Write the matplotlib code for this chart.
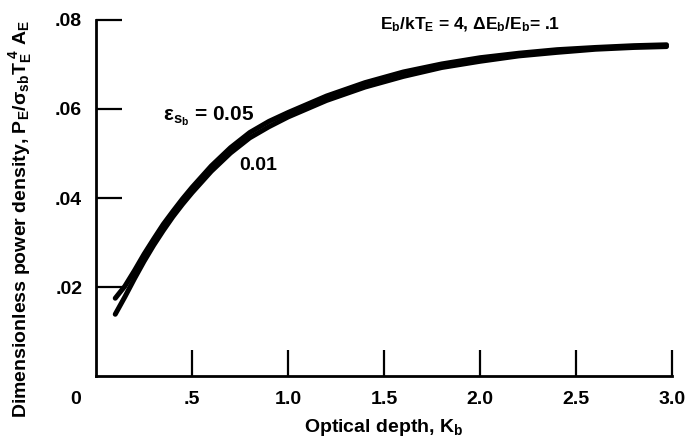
import matplotlib.pyplot as plt

plt.rcParams['font.family'] = ['Liberation Sans', 'DejaVu Sans']
plt.rcParams['font.weight'] = 'bold'
plt.rcParams['axes.labelweight'] = 'bold'
plt.rcParams['mathtext.fontset'] = 'custom'
plt.rcParams['mathtext.rm'] = 'Liberation Sans:bold'
plt.rcParams['mathtext.bf'] = 'Liberation Sans:bold'
plt.rcParams['mathtext.it'] = 'Liberation Sans:bold'
plt.rcParams['mathtext.default'] = 'bf'

# optical depth K_b
depth = [0.1, 0.15, 0.2, 0.25, 0.3, 0.35, 0.4, 0.45, 0.5, 0.6, 0.7, 0.8, 0.9, 1.0,
         1.2, 1.4, 1.6, 1.8, 2.0, 2.2, 2.4, 2.6, 2.8, 2.97]
# emissivity 0.05 (upper edge of the band)
power_05 = [0.0175, 0.0202, 0.0237, 0.0274, 0.0308, 0.0341, 0.0370, 0.0398, 0.0424, 0.0472,
            0.0513, 0.0547, 0.0572, 0.0592, 0.0629, 0.0659, 0.0683, 0.0701, 0.0715, 0.0725,
            0.0733, 0.0738, 0.0742, 0.0744]
# emissivity 0.01
power_01 = [0.0139, 0.0178, 0.0219, 0.0258, 0.0294, 0.0327, 0.0358, 0.0386, 0.0412, 0.0460,
            0.0501, 0.0535, 0.0560, 0.0582, 0.0619, 0.0649, 0.0673, 0.0693, 0.0707, 0.0719,
            0.0727, 0.0734, 0.0738, 0.0740]

xticks = [0.5, 1.0, 1.5, 2.0, 2.5, 3.0]
xlabels = ['.5', '1.0', '1.5', '2.0', '2.5', '3.0']
yticks = [0.02, 0.04, 0.06, 0.08]
ylabels = ['.02', '.04', '.06', '.08']

fig = plt.figure(figsize=(6.86, 4.41), dpi=100)
ax = fig.add_axes([0.140, 0.147, 0.840, 0.808])

ax.plot(depth, power_05, color='black', lw=3.6, solid_capstyle='round', solid_joinstyle='round')
ax.plot(depth, power_01, color='black', lw=3.6, solid_capstyle='round', solid_joinstyle='round')

ax.set_xlim(0, 3.0)
ax.set_ylim(0, 0.08)
ax.spines['top'].set_visible(False)
ax.spines['right'].set_visible(False)
ax.spines['left'].set_linewidth(2)
ax.spines['bottom'].set_linewidth(2)

ax.set_xticks(xticks)
ax.set_xticklabels(xlabels)
ax.set_yticks(yticks)
ax.set_yticklabels(ylabels)
ax.tick_params(direction='in', length=19, width=1.6, labelsize=14)
ax.tick_params(axis='x', pad=11)
ax.tick_params(axis='y', pad=10)

ax.text(-0.105, -0.0052, '0', ha='center', va='center', fontsize=14, clip_on=False)

ax.set_xlabel('Optical depth, $K_b$', fontsize=14)
ax.xaxis.set_label_coords(0.5, -0.115)
ax.set_ylabel(r'Dimensionless power density, $P_E/\sigma_{sb}T_E^{\ 4}\ A_E$', fontsize=14)
ax.yaxis.set_label_coords(-0.108, 0.44)

ax.text(0.35, 0.0575, r'$\epsilon_{s_b}$ = 0.05', fontsize=15)
ax.text(0.745, 0.0463, '0.01', fontsize=14)
ax.text(1.48, 0.0778, r'$E_b/kT_E$ = 4, $\Delta E_b/E_b$= .1', fontsize=12.5)

fig.savefig('out.png', dpi=100)
